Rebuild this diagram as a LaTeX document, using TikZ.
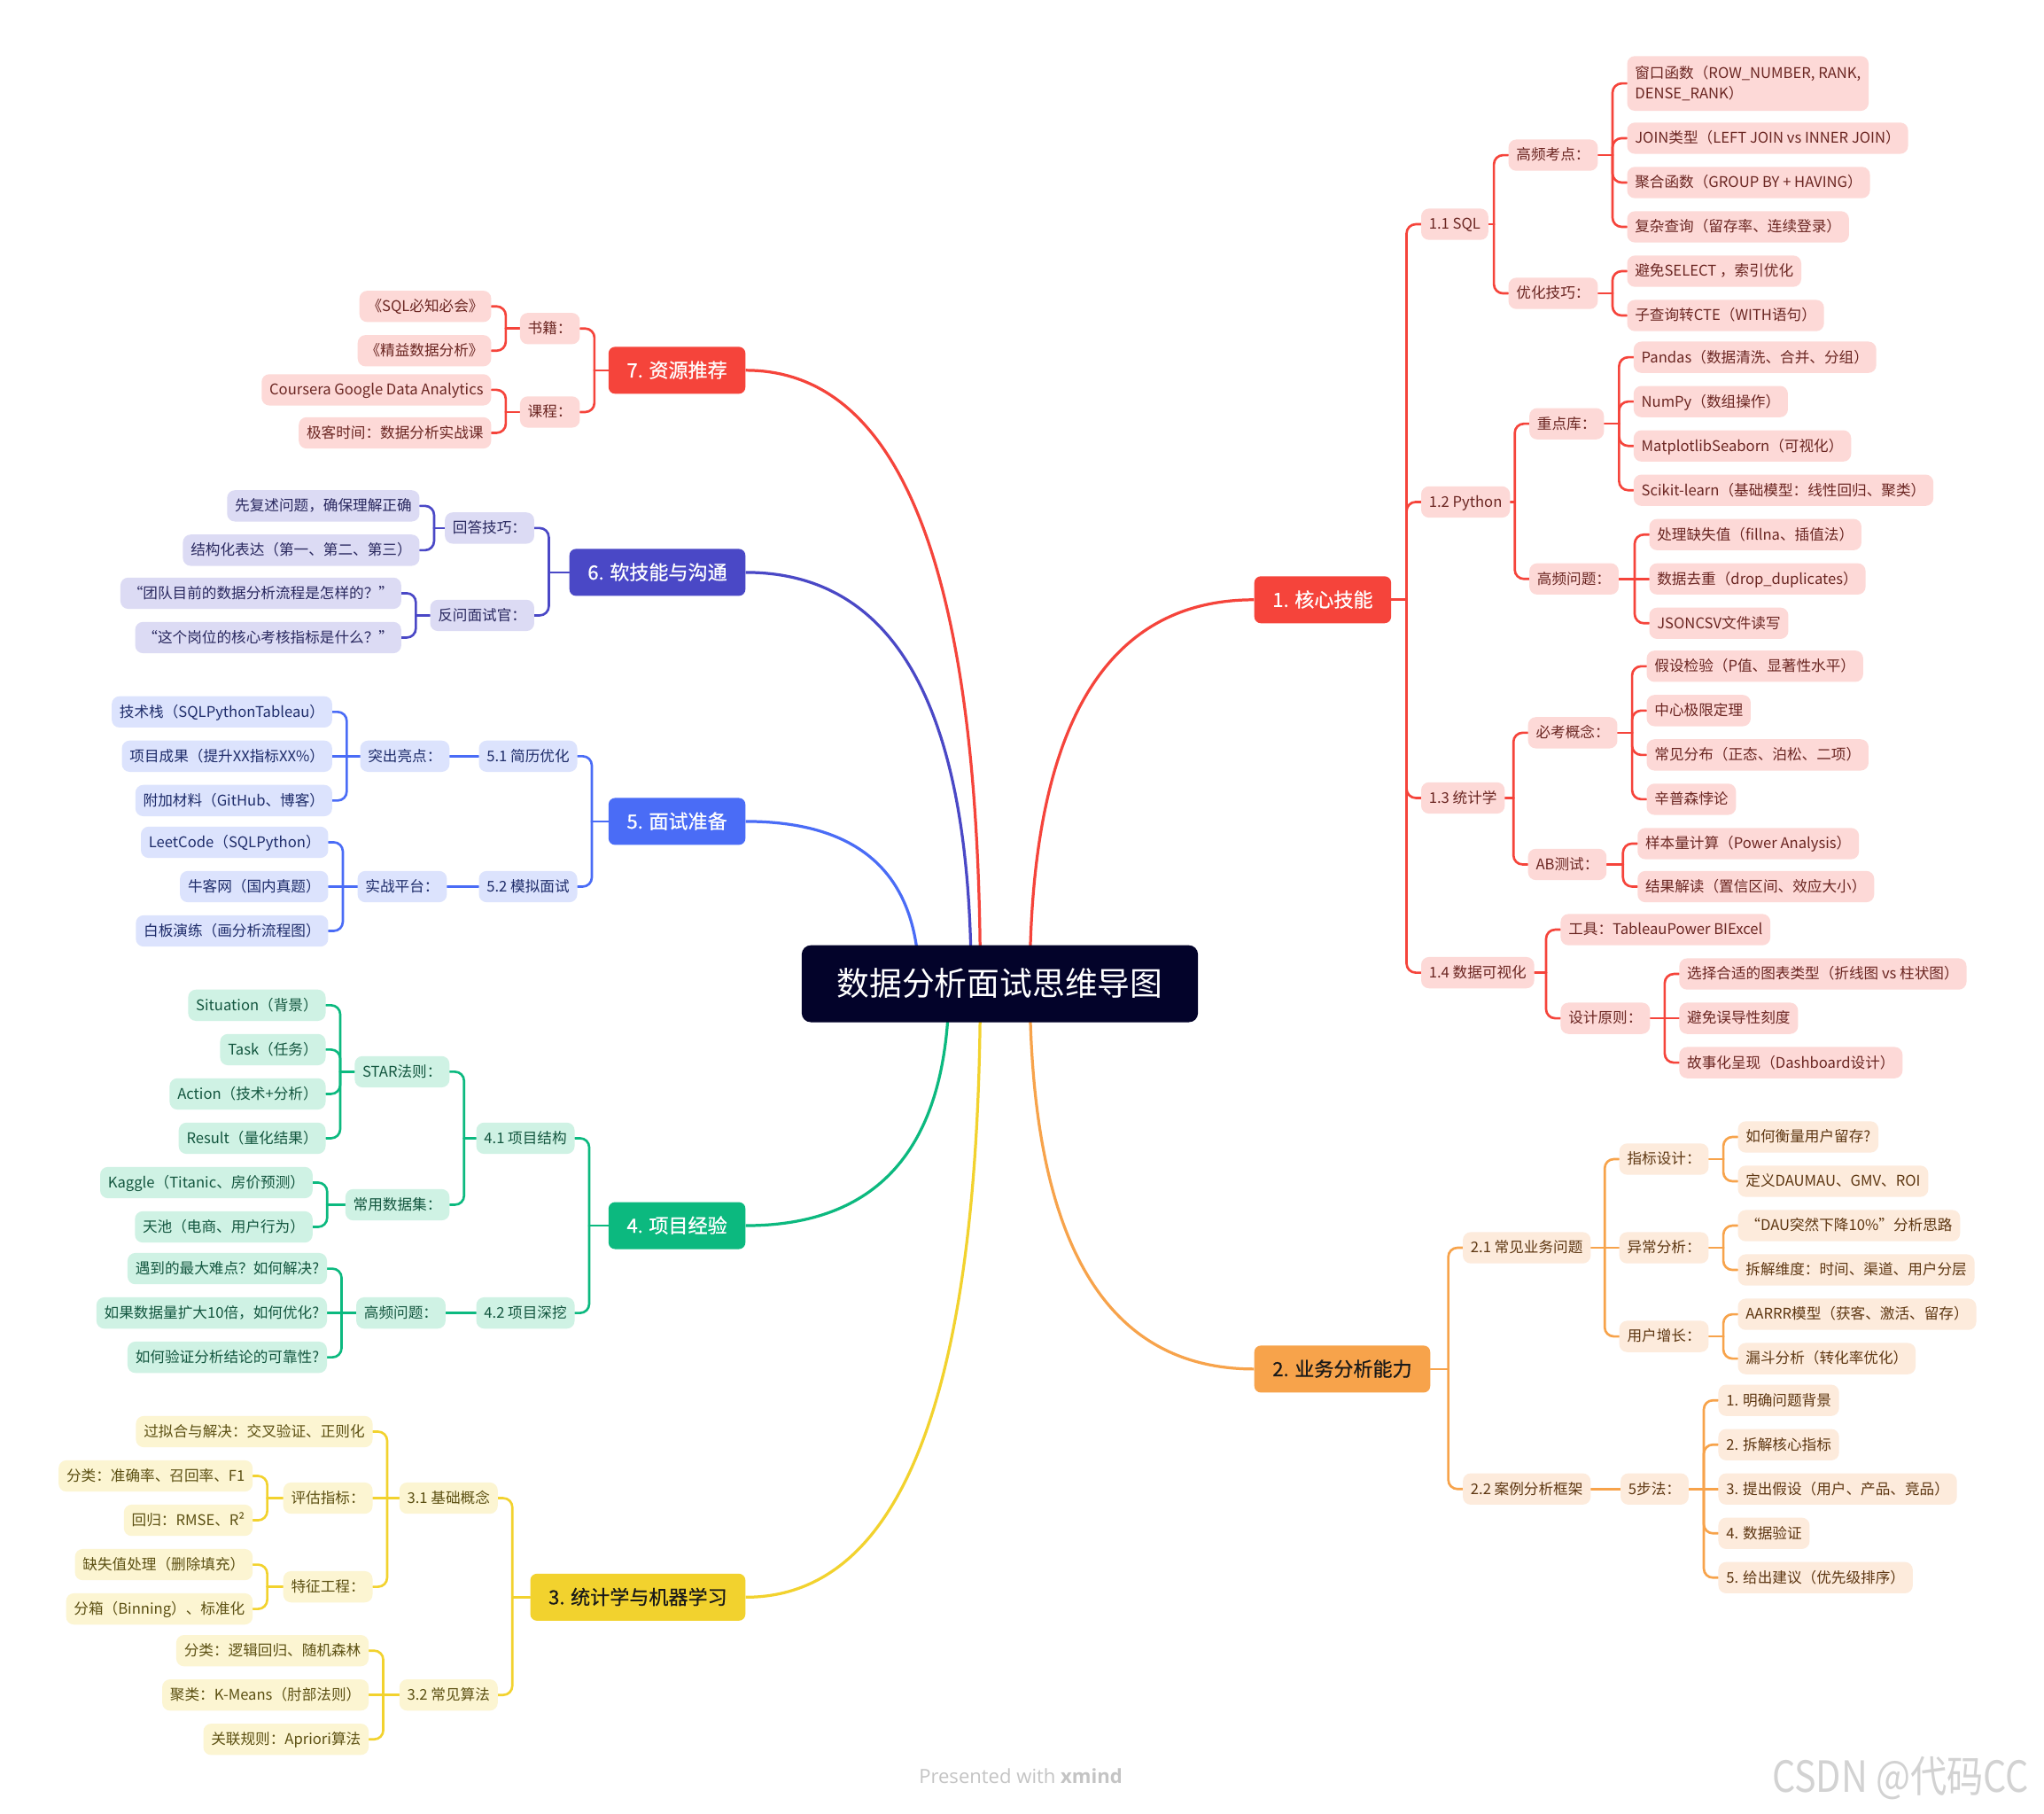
\documentclass[tikz,border=0pt]{standalone}
\usepackage{fontspec}
\setmainfont{Noto Sans CJK SC}
\newfontfamily\footfont{Open Sans}
\newfontfamily\wmfont[FakeStretch=0.85]{Noto Sans CJK SC}
\newfontfamily\mainfont[FakeBold=0.6]{Noto Sans CJK SC}
\usetikzlibrary{calc,backgrounds}

\definecolor{cRed}{HTML}{F5443B}
\definecolor{cRedL}{HTML}{FDD9D7}
\definecolor{cRedT}{HTML}{6B2622}
\definecolor{cOra}{HTML}{F7A34B}
\definecolor{cOraL}{HTML}{FDEBDC}
\definecolor{cOraT}{HTML}{5E3712}
\definecolor{cYel}{HTML}{F2D22E}
\definecolor{cYelL}{HTML}{FCF5D2}
\definecolor{cYelT}{HTML}{5C5012}
\definecolor{cGrn}{HTML}{0CB97F}
\definecolor{cGrnL}{HTML}{CFF2E4}
\definecolor{cGrnT}{HTML}{13563F}
\definecolor{cBlu}{HTML}{4A6CF6}
\definecolor{cBluL}{HTML}{DCE3FD}
\definecolor{cBluT}{HTML}{1E2C6A}
\definecolor{cInd}{HTML}{4A48C6}
\definecolor{cIndL}{HTML}{DCDBF4}
\definecolor{cIndT}{HTML}{29285F}
\definecolor{cRoot}{HTML}{03032A}
\definecolor{cFoot}{HTML}{C4C4C4}
\definecolor{cWm}{HTML}{D2D2D2}

\tikzset{
  leafbox/.style={rounded corners=6pt, inner xsep=6pt, inner ysep=0pt, minimum height=24pt,
    font=\fontsize{11.3}{16}\selectfont, text height=9.5pt, text depth=1.5pt},
  redleaf/.style={leafbox, fill=cRedL, text=cRedT},
  oraleaf/.style={leafbox, fill=cOraL, text=cOraT},
  yelleaf/.style={leafbox, fill=cYelL, text=cYelT},
  grnleaf/.style={leafbox, fill=cGrnL, text=cGrnT},
  bluleaf/.style={leafbox, fill=cBluL, text=cBluT},
  indleaf/.style={leafbox, fill=cIndL, text=cIndT},
  mainbox/.style={rounded corners=5pt, inner xsep=14pt, inner ysep=0pt, minimum height=36pt,
    font=\mainfont\fontsize{15}{18}\selectfont, text height=13pt, text depth=2pt},
  rootbox/.style={rounded corners=7pt, fill=cRoot, text=white, minimum width=304pt,
    minimum height=59pt, font=\fontsize{25}{30}\selectfont, text height=21pt, text depth=3pt},
  redln/.style={draw=cRed, line width=1.8pt, line cap=round},
  oraln/.style={draw=cOra, line width=1.8pt, line cap=round},
  yelln/.style={draw=cYel, line width=1.8pt, line cap=round},
  grnln/.style={draw=cGrn, line width=1.8pt, line cap=round},
  bluln/.style={draw=cBlu, line width=1.8pt, line cap=round},
  indln/.style={draw=cInd, line width=1.8pt, line cap=round},
  mcurve/.style={line width=2.2pt},
}

\newcommand\brR[4]{%
  \coordinate (tk) at ($(#3.west)+(-11,0)$);
  \draw[#1] (#2.east) -- (tk |- #2.east);
  \foreach \kid in {#4}{\draw[#1,rounded corners=7pt] (tk |- #2.east) |- (\kid.west);}
}
\newcommand\brL[4]{%
  \coordinate (tk) at ($(#3.east)+(11,0)$);
  \draw[#1] (#2.west) -- (tk |- #2.west);
  \foreach \kid in {#4}{\draw[#1,rounded corners=7pt] (tk |- #2.west) |- (\kid.east);}
}
% quadratic curve from root start point to a main node anchor
\newcommand\maincurve[3]{%
  \coordinate (qc) at (#2 |- #3);
  \draw[mcurve, draw=#1] (#2) .. controls ($(#2)!0.6667!(qc)$) and ($(#3)!0.6667!(qc)$) .. (#3);
}

\begin{document}
\begin{tikzpicture}[x=1pt,y=-1pt]
\useasboundingbox (0,0) rectangle (1568,1391);

% root
\node[rootbox] (root) at (767,754.5) {数据分析面试思维导图};

% main branches
\node[mainbox, fill=cRed, text=white, anchor=west] (m1) at (962,460) {1. 核心技能};
\node[mainbox, fill=cOra, text=black!90, anchor=west] (m2) at (962,1050) {2. 业务分析能力};
\node[mainbox, fill=cYel, text=black!90, anchor=east] (m3) at (572,1225) {3. 统计学与机器学习};
\node[mainbox, fill=cGrn, text=white, anchor=east] (m4) at (572,940) {4. 项目经验};
\node[mainbox, fill=cBlu, text=white, anchor=east] (m5) at (572,630) {5. 面试准备};
\node[mainbox, fill=cInd, text=white, anchor=east] (m6) at (572,439) {6. 软技能与沟通};
\node[mainbox, fill=cRed, text=white, anchor=east] (m7) at (572,284) {7. 资源推荐};

% ---------- 1 core skills ----------
\begin{scope}[every node/.style={redleaf, anchor=west}]
\node (n11) at (1090,172) {1.1 SQL};
\node (n12) at (1090,385) {1.2 Python};
\node (n13) at (1090,612) {1.3 统计学};
\node (n14) at (1090,746) {1.4 数据可视化};
\node (n111) at (1157,119) {高频考点：};
\node (n112) at (1157,225) {优化技巧：};
\node[align=left, text height=, text depth=, minimum height=42pt, inner ysep=4pt] (l1111) at (1248,64) {窗口函数（ROW\_NUMBER, RANK,\\DENSE\_RANK）};
\node (l1112) at (1248,106) {JOIN类型（LEFT JOIN vs INNER JOIN）};
\node (l1113) at (1248,140) {聚合函数（GROUP BY + HAVING）};
\node (l1114) at (1248,174) {复杂查询（留存率、连续登录）};
\node (l1121) at (1248,208) {避免SELECT ，索引优化};
\node (l1122) at (1248,242) {子查询转CTE（WITH语句）};
\node (n121) at (1173,325) {重点库：};
\node (n122) at (1173,444) {高频问题：};
\node (l1211) at (1253,274) {Pandas（数据清洗、合并、分组）};
\node (l1212) at (1253,308) {NumPy（数组操作）};
\node (l1213) at (1253,342) {MatplotlibSeaborn（可视化）};
\node (l1214) at (1253,376) {Scikit-learn（基础模型：线性回归、聚类）};
\node (l1221) at (1265,410) {处理缺失值（fillna、插值法）};
\node (l1222) at (1265,444) {数据去重（drop\_duplicates）};
\node (l1223) at (1265,478) {JSONCSV文件读写};
\node (n131) at (1172,562) {必考概念：};
\node (n132) at (1172,663) {AB测试：};
\node (l1311) at (1263,511) {假设检验（P值、显著性水平）};
\node (l1312) at (1263,545) {中心极限定理};
\node (l1313) at (1263,579) {常见分布（正态、泊松、二项）};
\node (l1314) at (1263,613) {辛普森悖论};
\node (l1321) at (1256,647) {样本量计算（Power Analysis）};
\node (l1322) at (1256,680) {结果解读（置信区间、效应大小）};
\node (n141) at (1197,713) {工具：TableauPower BIExcel};
\node (n142) at (1197,781) {设计原则：};
\node (l1421) at (1288,747) {选择合适的图表类型（折线图 vs 柱状图）};
\node (l1422) at (1288,781) {避免误导性刻度};
\node (l1423) at (1288,815) {故事化呈现（Dashboard设计）};
\end{scope}

% ---------- 2 business ----------
\begin{scope}[every node/.style={oraleaf, anchor=west}]
\node (n21) at (1122,957) {2.1 常见业务问题};
\node (n22) at (1122,1142) {2.2 案例分析框架};
\node (n211) at (1242,889) {指标设计：};
\node (n212) at (1242,957) {异常分析：};
\node (n213) at (1242,1025) {用户增长：};
\node (l2111) at (1333,872) {如何衡量用户留存?};
\node (l2112) at (1333,906) {定义DAUMAU、GMV、ROI};
\node (l2121) at (1333,940) {“DAU突然下降10\%”分析思路};
\node (l2122) at (1333,974) {拆解维度：时间、渠道、用户分层};
\node (l2131) at (1333,1008) {AARRR模型（获客、激活、留存）};
\node (l2132) at (1333,1042) {漏斗分析（转化率优化）};
\node (n221) at (1243,1142) {5步法：};
\node (l2211) at (1318,1074) {1. 明确问题背景};
\node (l2212) at (1318,1108) {2. 拆解核心指标};
\node (l2213) at (1318,1142) {3. 提出假设（用户、产品、竞品）};
\node (l2214) at (1318,1176) {4. 数据验证};
\node (l2215) at (1318,1210) {5. 给出建议（优先级排序）};
\end{scope}

% ---------- 7 resources ----------
\begin{scope}[every node/.style={redleaf, anchor=east}]
\node (n71) at (445,252) {书籍：};
\node (n72) at (445,316) {课程：};
\node (l711) at (377,235) {《SQL必知必会》};
\node (l712) at (377,269) {《精益数据分析》};
\node (l721) at (377,299) {Coursera Google Data Analytics};
\node (l722) at (377,332) {极客时间：数据分析实战课};
\end{scope}

% ---------- 6 soft skills ----------
\begin{scope}[every node/.style={indleaf, anchor=east}]
\node (n61) at (410,405) {回答技巧：};
\node (n62) at (410,472) {反问面试官：};
\node (l611) at (322,388) {先复述问题，确保理解正确};
\node (l612) at (322,422) {结构化表达（第一、第二、第三）};
\node (l621) at (308,455) {“团队目前的数据分析流程是怎样的？”};
\node (l622) at (308,489) {“这个岗位的核心考核指标是什么？”};
\end{scope}

% ---------- 5 interview prep ----------
\begin{scope}[every node/.style={bluleaf, anchor=east}]
\node (n51) at (443,580) {5.1 简历优化};
\node (n52) at (443,680) {5.2 模拟面试};
\node (n511) at (345,580) {突出亮点：};
\node (n521) at (343,680) {实战平台：};
\node (l5111) at (255,546) {技术栈（SQLPythonTableau）};
\node (l5112) at (255,580) {项目成果（提升XX指标XX\%）};
\node (l5113) at (255,614) {附加材料（GitHub、博客）};
\node (l5211) at (252,646) {LeetCode（SQLPython）};
\node (l5212) at (252,680) {牛客网（国内真题）};
\node (l5213) at (252,714) {白板演练（画分析流程图）};
\end{scope}

% ---------- 4 projects ----------
\begin{scope}[every node/.style={grnleaf, anchor=east}]
\node (n41) at (441,873) {4.1 项目结构};
\node (n42) at (441,1007) {4.2 项目深挖};
\node (n411) at (345,822) {STAR法则：};
\node (n412) at (345,924) {常用数据集：};
\node (l4111) at (250,771) {Situation（背景）};
\node (l4112) at (250,805) {Task（任务）};
\node (l4113) at (250,839) {Action（技术+分析）};
\node (l4114) at (250,873) {Result（量化结果）};
\node (l4121) at (240,907) {Kaggle（Titanic、房价预测）};
\node (l4122) at (240,941) {天池（电商、用户行为）};
\node (n421) at (342,1007) {高频问题：};
\node (l4211) at (251,973) {遇到的最大难点？如何解决?};
\node (l4212) at (251,1007) {如果数据量扩大10倍，如何优化?};
\node (l4213) at (251,1041) {如何验证分析结论的可靠性?};
\end{scope}

% ---------- 3 stats & ML ----------
\begin{scope}[every node/.style={yelleaf, anchor=east}]
\node (n31) at (382,1149) {3.1 基础概念};
\node (n32) at (382,1300) {3.2 常见算法};
\node (n311) at (286,1098) {过拟合与解决：交叉验证、正则化};
\node (n312) at (286,1149) {评估指标：};
\node (n313) at (286,1217) {特征工程：};
\node (l3121) at (194,1132) {分类：准确率、召回率、F1};
\node (l3122) at (194,1166) {回归：RMSE、R²};
\node (l3131) at (194,1200) {缺失值处理（删除填充）};
\node (l3132) at (194,1234) {分箱（Binning）、标准化};
\node (l321) at (283,1266) {分类：逻辑回归、随机森林};
\node (l322) at (283,1300) {聚类：K-Means（肘部法则）};
\node (l323) at (283,1334) {关联规则：Apriori算法};
\end{scope}

% footer
\node[font=\footfont\fontsize{15}{18}\selectfont, text=cFoot] (foot) at (783,1362) {Presented with \textbf{xmind}};
\node[font=\wmfont\fontsize{33}{38}\selectfont, text=cWm] (wm) at (1458,1364) {CSDN @代码CC};

% ---------- connectors ----------
\begin{scope}[on background layer]
\fill[white] (0,0) rectangle (1568,1391);
\coordinate (r1) at (790,754);
\coordinate (r2) at (790,754);
\coordinate (r3) at (752,754);
\coordinate (r4) at (728,754);
\coordinate (r5) at (705,754);
\coordinate (r6) at (745,754);
\coordinate (r7) at (752,754);
\maincurve{cRed}{r1}{m1.west}
\maincurve{cOra}{r2}{m2.west}
\maincurve{cYel}{r3}{m3.east}
\maincurve{cGrn}{r4}{m4.east}
\maincurve{cBlu}{r5}{m5.east}
\maincurve{cInd}{r6}{m6.east}
\maincurve{cRed}{r7}{m7.east}

% 1
\brR{redln}{m1}{n11}{n11,n12,n13,n14}
\brR{redln}{n11}{n111}{n111,n112}
\brR{redln}{n111}{l1111}{l1111,l1112,l1113,l1114}
\brR{redln}{n112}{l1121}{l1121,l1122}
\brR{redln}{n12}{n121}{n121,n122}
\brR{redln}{n121}{l1211}{l1211,l1212,l1213,l1214}
\brR{redln}{n122}{l1221}{l1221,l1223}
\draw[redln] (n122.east) -- (l1222.west);
\brR{redln}{n13}{n131}{n131,n132}
\brR{redln}{n131}{l1311}{l1311,l1312,l1313,l1314}
\brR{redln}{n132}{l1321}{l1321,l1322}
\brR{redln}{n14}{n141}{n141,n142}
\brR{redln}{n142}{l1421}{l1421,l1423}
\draw[redln] (n142.east) -- (l1422.west);

% 2
\brR{oraln}{m2}{n21}{n21,n22}
\brR{oraln}{n21}{n211}{n211,n213}
\draw[oraln] (n21.east) -- (n212.west);
\brR{oraln}{n211}{l2111}{l2111,l2112}
\brR{oraln}{n212}{l2121}{l2121,l2122}
\brR{oraln}{n213}{l2131}{l2131,l2132}
\draw[oraln] (n22.east) -- (n221.west);
\brR{oraln}{n221}{l2211}{l2211,l2212,l2214,l2215}
\draw[oraln] (n221.east) -- (l2213.west);

% 7
\brL{redln}{m7}{n71}{n71,n72}
\brL{redln}{n71}{l711}{l711,l712}
\brL{redln}{n72}{l721}{l721,l722}

% 6
\brL{indln}{m6}{n61}{n61,n62}
\brL{indln}{n61}{l611}{l611,l612}
\brL{indln}{n62}{l621}{l621,l622}

% 5
\brL{bluln}{m5}{n51}{n51,n52}
\draw[bluln] (n51.west) -- (n511.east);
\draw[bluln] (n52.west) -- (n521.east);
\brL{bluln}{n511}{l5111}{l5111,l5113}
\draw[bluln] (n511.west) -- (l5112.east);
\brL{bluln}{n521}{l5211}{l5211,l5213}
\draw[bluln] (n521.west) -- (l5212.east);

% 4
\brL{grnln}{m4}{n41}{n41,n42}
\brL{grnln}{n41}{n411}{n411,n412}
\brL{grnln}{n411}{l4111}{l4111,l4112,l4113,l4114}
\brL{grnln}{n412}{l4121}{l4121,l4122}
\draw[grnln] (n42.west) -- (n421.east);
\brL{grnln}{n421}{l4211}{l4211,l4213}
\draw[grnln] (n421.west) -- (l4212.east);

% 3
\brL{yelln}{m3}{n31}{n31,n32}
\brL{yelln}{n31}{n311}{n311,n313}
\draw[yelln] (n31.west) -- (n312.east);
\brL{yelln}{n312}{l3121}{l3121,l3122}
\brL{yelln}{n313}{l3131}{l3131,l3132}
\brL{yelln}{n32}{l321}{l321,l323}
\draw[yelln] (n32.west) -- (l322.east);
\end{scope}
\end{tikzpicture}
\end{document}
